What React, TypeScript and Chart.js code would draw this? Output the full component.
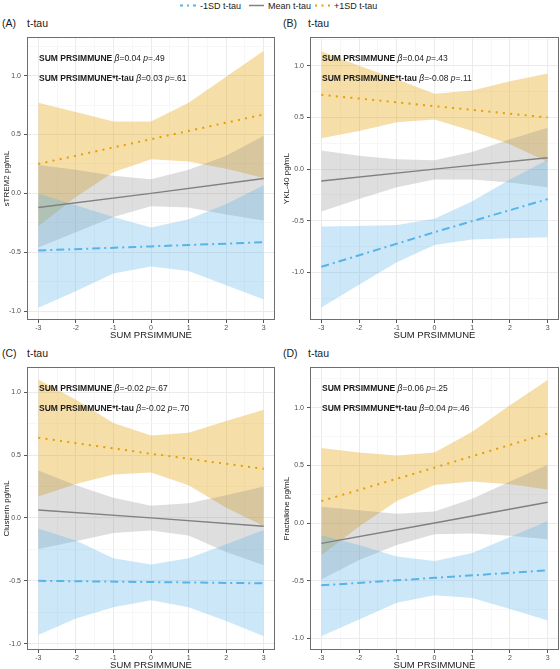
import { useEffect, useRef } from "react";
import { Chart, registerables } from "chart.js";

Chart.register(...registerables);

const FONT = '"Liberation Sans", Arial, Helvetica, sans-serif';

// x positions of the confidence-band vertices and of the fitted lines
const bandX = [-3, -2, -1, 0, 1, 2, 3];
const lineX = [-3, 0, 3];
const xTickValues = [-3, -2.5, -2, -1.5, -1, -0.5, 0, 0.5, 1, 1.5, 2, 2.5, 3];
const yTickValues = [-1.5, -1.25, -1, -0.75, -0.5, -0.25, 0, 0.25, 0.5, 0.75, 1, 1.25];

const xAxisTitle = "SUM PRSIMMUNE";
const panelSubtitle = "t-tau";
const seriesNames = ["-1SD t-tau", "Mean t-tau", "+1SD t-tau"];

// (A) sTREM2
const strem2LowLine = [-0.485, -0.45, -0.415];
const strem2MeanLine = [-0.12, 0.0, 0.126];
const strem2HighLine = [0.25, 0.46, 0.67];
const strem2LowUpper = [0.0, -0.1, -0.2, -0.29, -0.22, -0.09, 0.07];
const strem2LowLower = [-0.97, -0.83, -0.68, -0.62, -0.66, -0.78, -0.9];
const strem2MeanUpper = [0.24, 0.2, 0.15, 0.12, 0.2, 0.32, 0.49];
const strem2MeanLower = [-0.46, -0.33, -0.2, -0.11, -0.12, -0.18, -0.23];
const strem2HighUpper = [0.77, 0.69, 0.61, 0.61, 0.77, 0.99, 1.21];
const strem2HighLower = [-0.28, -0.03, 0.18, 0.29, 0.27, 0.21, 0.13];

// (B) YKL-40
const ykl40LowLine = [-0.945, -0.61, -0.29];
const ykl40MeanLine = [-0.115, 0.0, 0.11];
const ykl40HighLine = [0.72, 0.61, 0.5];
const ykl40LowUpper = [-0.555, -0.55, -0.54, -0.48, -0.31, -0.1, 0.09];
const ykl40LowLower = [-1.34, -1.12, -0.9, -0.735, -0.68, -0.67, -0.66];
const ykl40MeanUpper = [0.18, 0.13, 0.095, 0.087, 0.165, 0.29, 0.4];
const ykl40MeanLower = [-0.41, -0.29, -0.175, -0.1, -0.1, -0.13, -0.175];
const ykl40HighUpper = [1.14, 1.0, 0.87, 0.73, 0.76, 0.85, 0.925];
const ykl40HighLower = [0.3, 0.37, 0.455, 0.48, 0.37, 0.24, 0.07];

// (C) Clusterin
const clusterinLowLine = [-0.5, -0.51, -0.52];
const clusterinMeanLine = [0.063, 0.0, -0.066];
const clusterinHighLine = [0.637, 0.51, 0.39];
const clusterinLowUpper = [-0.085, -0.18, -0.32, -0.37, -0.32, -0.21, -0.096];
const clusterinLowLower = [-0.93, -0.8, -0.71, -0.655, -0.71, -0.82, -0.94];
const clusterinMeanUpper = [0.376, 0.26, 0.16, 0.096, 0.117, 0.18, 0.25];
const clusterinMeanLower = [-0.247, -0.185, -0.12, -0.1, -0.14, -0.27, -0.376];
const clusterinHighUpper = [1.1, 0.94, 0.755, 0.655, 0.676, 0.77, 0.86];
const clusterinHighLower = [0.17, 0.27, 0.345, 0.36, 0.26, 0.08, -0.065];

// (D) Fractalkine
const fractalkineLowLine = [-0.54, -0.475, -0.41];
const fractalkineMeanLine = [-0.176, 0.0, 0.18];
const fractalkineHighLine = [0.19, 0.48, 0.775];
const fractalkineLowUpper = [-0.105, -0.19, -0.29, -0.33, -0.26, -0.12, 0.017];
const fractalkineLowLower = [-0.98, -0.835, -0.69, -0.625, -0.65, -0.745, -0.845];
const fractalkineMeanUpper = [0.14, 0.11, 0.08, 0.1, 0.21, 0.36, 0.505];
const fractalkineMeanLower = [-0.49, -0.32, -0.19, -0.097, -0.09, -0.11, -0.14];
const fractalkineHighUpper = [0.65, 0.61, 0.585, 0.61, 0.79, 1.02, 1.24];
const fractalkineHighLower = [-0.28, -0.03, 0.19, 0.33, 0.36, 0.335, 0.29];

// model coefficients printed in each panel: [beta, p]
const strem2Stats = [["0.04", ".49"], ["0.03", ".61"]];
const ykl40Stats = [["0.04", ".43"], ["-0.08", ".11"]];
const clusterinStats = [["-0.02", ".67"], ["-0.02", ".70"]];
const fractalkineStats = [["0.06", ".25"], ["0.04", ".46"]];
const statTerms = ["SUM PRSIMMUNE", "SUM PRSIMMUNE*t-tau"];

const BLUE = "#56B4E9";
const GREY = "#808080";
const ORANGE = "#E69F00";
const BLUE_FILL = "rgba(86,180,233,0.30)";
const GREY_FILL = "rgba(128,128,128,0.26)";
const ORANGE_FILL = "rgba(230,159,0,0.34)";

type PanelSpec = {
  tag: string;
  yTitle: string;
  yMin: number;
  yMax: number;
  left: number;
  top: number;
  yAxisWidth: number;
  padRight: number;
  lowLine: number[];
  meanLine: number[];
  highLine: number[];
  lowUpper: number[];
  lowLower: number[];
  meanUpper: number[];
  meanLower: number[];
  highUpper: number[];
  highLower: number[];
  stats: string[][];
};

const panels: PanelSpec[] = [
  {
    tag: "(A)", yTitle: "sTREM2 pg/mL", yMin: -1.075, yMax: 1.326, left: 0, top: 30, yAxisWidth: 27, padRight: 5,
    lowLine: strem2LowLine, meanLine: strem2MeanLine, highLine: strem2HighLine,
    lowUpper: strem2LowUpper, lowLower: strem2LowLower, meanUpper: strem2MeanUpper, meanLower: strem2MeanLower,
    highUpper: strem2HighUpper, highLower: strem2HighLower, stats: strem2Stats,
  },
  {
    tag: "(B)", yTitle: "YKL-40 pg/mL", yMin: -1.46, yMax: 1.277, left: 280, top: 30, yAxisWidth: 30, padRight: 1,
    lowLine: ykl40LowLine, meanLine: ykl40MeanLine, highLine: ykl40HighLine,
    lowUpper: ykl40LowUpper, lowLower: ykl40LowLower, meanUpper: ykl40MeanUpper, meanLower: ykl40MeanLower,
    highUpper: ykl40HighUpper, highLower: ykl40HighLower, stats: ykl40Stats,
  },
  {
    tag: "(C)", yTitle: "Clusterin pg/mL", yMin: -1.05, yMax: 1.198, left: 0, top: 360, yAxisWidth: 27, padRight: 5,
    lowLine: clusterinLowLine, meanLine: clusterinMeanLine, highLine: clusterinHighLine,
    lowUpper: clusterinLowUpper, lowLower: clusterinLowLower, meanUpper: clusterinMeanUpper, meanLower: clusterinMeanLower,
    highUpper: clusterinHighUpper, highLower: clusterinHighLower, stats: clusterinStats,
  },
  {
    tag: "(D)", yTitle: "Fractalkine pg/mL", yMin: -1.1, yMax: 1.35, left: 280, top: 360, yAxisWidth: 30, padRight: 1,
    lowLine: fractalkineLowLine, meanLine: fractalkineMeanLine, highLine: fractalkineHighLine,
    lowUpper: fractalkineLowUpper, lowLower: fractalkineLowLower, meanUpper: fractalkineMeanUpper, meanLower: fractalkineMeanLower,
    highUpper: fractalkineHighUpper, highLower: fractalkineHighLower, stats: fractalkineStats,
  },
];

const CANVAS_W = 280;
const CANVAS_H = 311;
const X_AXIS_H = 21;

const pts = (xs: number[], ys: number[]) => ys.map((y, i) => ({ x: xs[i], y }));
const isWhole = (v: number, step: number) => Math.abs(v / step - Math.round(v / step)) < 1e-6;

function bandPair(upper: number[], lower: number[], fill: string) {
  const base = { pointRadius: 0, borderWidth: 0, borderColor: "rgba(0,0,0,0)", tension: 0, order: 5 };
  return [
    { ...base, data: pts(bandX, upper), fill: false },
    { ...base, data: pts(bandX, lower), fill: "-1", backgroundColor: fill },
  ];
}

function Panel({ spec }: { spec: PanelSpec }) {
  const ref = useRef<HTMLCanvasElement | null>(null);

  useEffect(() => {
    if (!ref.current) return;

    const decor = {
      id: "panelDecor",
      afterDatasetsDraw(chart: any) {
        const { ctx, chartArea: a } = chart;
        ctx.save();
        ctx.fillStyle = "#1a1a1a";
        ctx.textBaseline = "middle";
        ctx.textAlign = "left";
        spec.stats.forEach((s, i) => {
          let x = a.left + 12;
          const y = a.top + 21 + i * 20.7;
          const parts: [string, string][] = [
            [statTerms[i], "bold"],
            [" ", "normal"],
            ["\u03B2", "italic"],
            ["=" + s[0] + " ", "normal"],
            ["p", "italic"],
            ["=" + s[1], "normal"],
          ];
          parts.forEach(([t, st]) => {
            ctx.font = `${st} 8.5px ${FONT}`;
            ctx.fillText(t, x, y);
            x += ctx.measureText(t).width;
          });
        });
        ctx.strokeStyle = "#6e6e6e";
        ctx.lineWidth = 1;
        ctx.strokeRect(
          Math.round(a.left) + 0.5,
          Math.round(a.top) + 0.5,
          Math.round(a.right) - Math.round(a.left) - 1,
          Math.round(a.bottom) - Math.round(a.top) - 1
        );
        ctx.restore();
      },
    };

    const chart = new Chart(ref.current, {
      type: "line",
      data: {
        datasets: [
          {
            label: seriesNames[0], data: pts(lineX, spec.lowLine), borderColor: BLUE, borderWidth: 2,
            borderDash: [8, 4, 2, 4], pointRadius: 0, fill: false, order: 0,
          },
          {
            label: seriesNames[1], data: pts(lineX, spec.meanLine), borderColor: GREY, borderWidth: 1.4,
            pointRadius: 0, fill: false, order: 0,
          },
          {
            label: seriesNames[2], data: pts(lineX, spec.highLine), borderColor: ORANGE, borderWidth: 2,
            borderDash: [2, 5.3], pointRadius: 0, fill: false, order: 0,
          },
          ...bandPair(spec.lowUpper, spec.lowLower, BLUE_FILL),
          ...bandPair(spec.meanUpper, spec.meanLower, GREY_FILL),
          ...bandPair(spec.highUpper, spec.highLower, ORANGE_FILL),
        ] as any,
      },
      options: {
        animation: false,
        responsive: false,
        maintainAspectRatio: false,
        layout: { padding: { left: 0, right: spec.padRight, top: 2, bottom: 0 } },
        plugins: { legend: { display: false }, tooltip: { enabled: false }, title: { display: false } },
        elements: { line: { tension: 0, borderCapStyle: "butt" } },
        scales: {
          x: {
            type: "linear",
            min: -3.3,
            max: 3.3,
            afterBuildTicks: (s: any) => {
              s.ticks = xTickValues.map((v) => ({ value: v }));
            },
            afterFit: (s: any) => {
              s.height = X_AXIS_H;
            },
            border: { display: false },
            grid: {
              color: (c: any) => (isWhole(c.tick.value, 1) ? "#ebebeb" : "#f4f4f4"),
              lineWidth: (c: any) => (isWhole(c.tick.value, 1) ? 1 : 0.7),
              tickColor: (c: any) => (isWhole(c.tick.value, 1) ? "#555555" : "rgba(0,0,0,0)"),
              tickLength: 3,
            },
            ticks: {
              autoSkip: false,
              maxRotation: 0,
              padding: 1,
              color: "#4d4d4d",
              font: { family: FONT, size: 7 },
              callback: (v: any) => (isWhole(Number(v), 1) ? String(Number(v)) : ""),
            },
            title: { display: true, text: xAxisTitle, color: "#1a1a1a", font: { family: FONT, size: 9.5 }, padding: 0 },
          },
          y: {
            type: "linear",
            min: spec.yMin,
            max: spec.yMax,
            afterBuildTicks: (s: any) => {
              s.ticks = yTickValues.filter((v) => v >= spec.yMin && v <= spec.yMax).map((v) => ({ value: v }));
            },
            afterFit: (s: any) => {
              s.width = spec.yAxisWidth;
            },
            border: { display: false },
            grid: {
              color: (c: any) => (isWhole(c.tick.value, 0.5) ? "#ebebeb" : "#f4f4f4"),
              lineWidth: (c: any) => (isWhole(c.tick.value, 0.5) ? 1 : 0.7),
              tickColor: (c: any) => (isWhole(c.tick.value, 0.5) ? "#555555" : "rgba(0,0,0,0)"),
              tickLength: 3,
            },
            ticks: {
              autoSkip: false,
              padding: 3,
              color: "#4d4d4d",
              font: { family: FONT, size: 7 },
              callback: (v: any) => (isWhole(Number(v), 0.5) ? Number(v).toFixed(1) : ""),
            },
            title: {
              display: true,
              text: spec.yTitle,
              color: "#1a1a1a",
              font: { family: FONT, size: 8 },
              padding: { top: 2, bottom: 0 },
            },
          },
        },
      },
      plugins: [decor],
    } as any);

    return () => chart.destroy();
  }, [spec]);

  return (
    <canvas
      ref={ref}
      width={CANVAS_W}
      height={CANVAS_H}
      style={{ position: "absolute", left: spec.left, top: spec.top, width: CANVAS_W, height: CANVAS_H }}
    />
  );
}

function Legend() {
  const textStyle = { fontFamily: FONT, fontSize: 9, fill: "#1a1a1a" } as const;
  return (
    <svg width={560} height={14} style={{ position: "absolute", left: 0, top: 0 }}>
      <line x1={180} y1={5.5} x2={196} y2={5.5} stroke={BLUE} strokeWidth={2} strokeDasharray="3 4 2 4" />
      <text x={200} y={5.5} dominantBaseline="central" style={textStyle}>{seriesNames[0]}</text>
      <line x1={249} y1={5.5} x2={264} y2={5.5} stroke={GREY} strokeWidth={1.5} />
      <text x={268} y={5.5} dominantBaseline="central" style={textStyle}>{seriesNames[1]}</text>
      <line x1={315} y1={5.5} x2={331} y2={5.5} stroke={ORANGE} strokeWidth={2} strokeDasharray="2 4.5" />
      <text x={334} y={5.5} dominantBaseline="central" style={textStyle}>{seriesNames[2]}</text>
    </svg>
  );
}

function PanelHeading({ tag, x, y }: { tag: string; x: number; y: number }) {
  const st = { position: "absolute" as const, top: y - 7, fontFamily: FONT, fontSize: 10.5, lineHeight: "14px", color: "#1a1a1a", whiteSpace: "nowrap" as const };
  return (
    <>
      <div style={{ ...st, left: x }}>{tag}</div>
      <div style={{ ...st, left: x + 25 }}>{panelSubtitle}</div>
    </>
  );
}

export default function App() {
  return (
    <div style={{ position: "absolute", left: 0, top: 0, width: 560, height: 669, overflow: "hidden", background: "#ffffff" }}>
      <Legend />
      <PanelHeading tag="(A)" x={2} y={23} />
      <PanelHeading tag="(B)" x={283} y={23} />
      <PanelHeading tag="(C)" x={2} y={353} />
      <PanelHeading tag="(D)" x={283} y={353} />
      {panels.map((p) => (
        <Panel key={p.tag} spec={p} />
      ))}
    </div>
  );
}
